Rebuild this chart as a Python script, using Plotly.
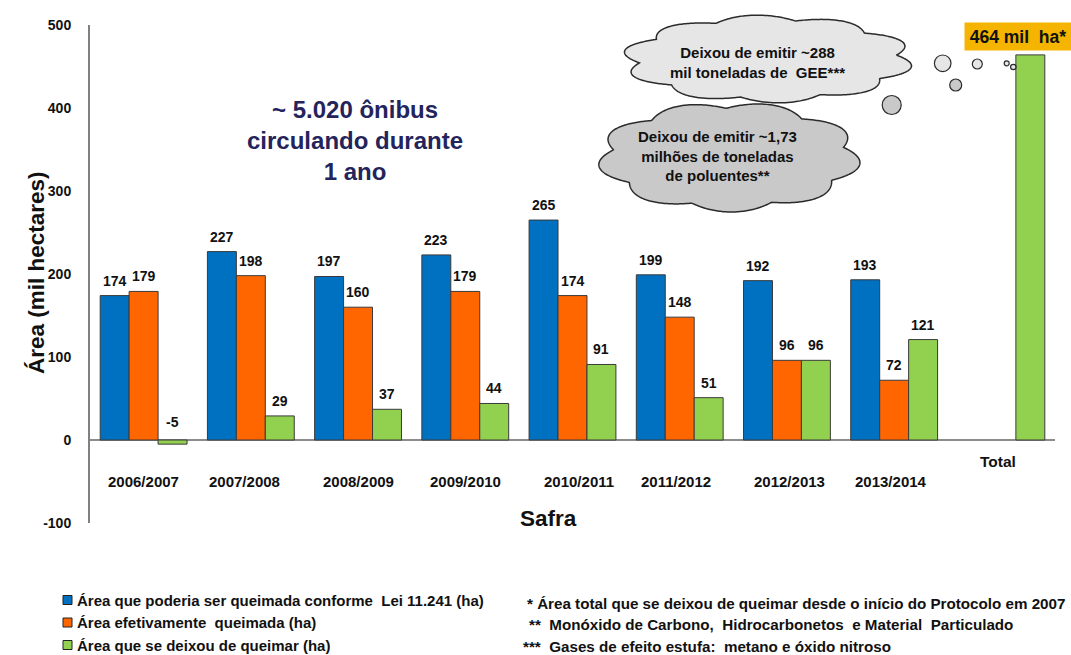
import numpy as np
import plotly.graph_objects as go

# ---- data -------------------------------------------------------------
safras = ["2006/2007", "2007/2008", "2008/2009", "2009/2010", "2010/2011",
          "2011/2012", "2012/2013", "2013/2014", "Total"]
area_permitida = [174, 227, 197, 223, 265, 199, 192, 193, None]
area_queimada = [179, 198, 160, 179, 174, 148, 96, 72, None]
area_evitada = [-5, 29, 37, 44, 91, 51, 96, 121, 464]
y_ticks = [-100, 0, 100, 200, 300, 400, 500]

series_names = [
    "Área que poderia ser queimada conforme  Lei 11.241 (ha)",
    "Área efetivamente  queimada (ha)",
    "Área que se deixou de queimar (ha)",
]
series_colors = ["#0070C0", "#FF6600", "#92D050"]

footnotes = [
    "* Área total que se deixou de queimar desde o início do Protocolo em 2007",
    "**  Monóxido de Carbono,  Hidrocarbonetos  e Material  Particulado",
    "***  Gases de efeito estufa:  metano e óxido nitroso",
]

# ---- layout geometry (pixels) -----------------------------------------
FIG_W, FIG_H = 1071, 655
M_L, M_R, M_T, M_B = 90, 16, 25, 132
PW = FIG_W - M_L - M_R
PH = FIG_H - M_T - M_B
FONT = "Liberation Sans, Arial, sans-serif"
BARGAP = 0.19


def fx(px):
    return (px - M_L) / PW


def fy(py):
    return (FIG_H - M_B - py) / PH


def bold(size, color="#111111"):
    return dict(family=FONT, size=size, color=color, weight="bold")


def note(px, py, text, size, xanchor="center", color="#111111", **kw):
    return dict(x=fx(px), y=fy(py), xref="paper", yref="paper", text=text,
                showarrow=False, xanchor=xanchor, yanchor="middle",
                font=bold(size, color), **kw)


fig = go.Figure()
all_series = [area_permitida, area_queimada, area_evitada]
for name, vals, col in zip(series_names, all_series, series_colors):
    fig.add_trace(go.Bar(
        x=safras, y=vals, name=name, showlegend=False,
        marker=dict(color=col, line=dict(color="#3a3a3a", width=1)),
    ))

# value labels over each bar
bar_px = PW / len(safras) * (1 - BARGAP) / 3
annotations = []
for k, vals in enumerate(all_series):
    for cat, v in zip(safras, vals):
        if v is None or cat == "Total":
            continue
        annotations.append(dict(
            x=cat, y=max(v, 0), xref="x", yref="y", text=str(v),
            showarrow=False, xshift=(k - 1) * bar_px,
            xanchor="center", yanchor="bottom", yshift=5 if v >= 0 else 8,
            font=bold(14),
        ))

# category labels under the axis
label_shift = [0, -6, 0, 0, 6, -4, 3, -3, -3]
for cat, sh in zip(safras, label_shift):
    annotations.append(dict(
        x=cat, y=fy(461 if cat == "Total" else 481), xref="x", yref="paper",
        text=cat, showarrow=False, xshift=sh,
        xanchor="center", yanchor="middle",
        font=bold(15.5 if cat == "Total" else 15),
    ))

# total label box
annotations.append(note(1018, 36, f"{area_evitada[-1]} mil  ha*", 17.5,
                        bgcolor="#F5B400", width=104, height=25))

# axis titles
annotations.append(note(36, 273, "Área (mil hectares)", 22.5, textangle=-90))
annotations.append(note(548, 518, "Safra", 22.5))

# bus-equivalence note
annotations.append(note(355, 140, "~ 5.020 ônibus<br>circulando durante<br>1 ano",
                        24, color="#24245C"))


# ---- thought clouds ----------------------------------------------------
def cloud_path(cx, cy, hw, hh, n, k=0.13, phase=0.0):
    t = np.linspace(0, 2 * np.pi, 600)
    s = 1 + k * np.abs(np.sin(n * (t + phase) / 2))
    a, b = hw / (1 + k), hh / (1 + k)
    xs = cx + a * s * np.cos(t)
    ys = cy + b * s * np.sin(t)
    pts = [f"{fx(x):.5f},{fy(y):.5f}" for x, y in zip(xs, ys)]
    return "M" + " L".join(pts) + " Z"


shapes = []
shapes.append(dict(type="path", xref="paper", yref="paper",
                   path=cloud_path(768, 59, 146, 44, 10, phase=0.1),
                   fillcolor="#E6E6E6", line=dict(color="#2b2b2b", width=1.5)))
shapes.append(dict(type="path", xref="paper", yref="paper",
                   path=cloud_path(729, 157, 132, 55, 9, phase=0.2),
                   fillcolor="#C9C9C9", line=dict(color="#2b2b2b", width=1.5)))

bubbles = [(891.7, 105, 9.5, "#C9C9C9"), (942.7, 63.3, 8.3, "#E6E6E6"),
           (955.7, 85, 6, "#C9C9C9"), (977.3, 64, 5, "#E6E6E6"),
           (1006.7, 63.3, 2.5, "#E6E6E6"), (1013.3, 67, 2.7, "#E6E6E6")]
for bx, by, r, c in bubbles:
    shapes.append(dict(type="circle", xref="paper", yref="paper",
                       x0=fx(bx - r), x1=fx(bx + r), y0=fy(by + r), y1=fy(by - r),
                       fillcolor=c, line=dict(color="#2b2b2b", width=1.2)))

annotations.append(note(757, 62, "Deixou de emitir ~288<br>mil toneladas de  GEE***", 15))
annotations.append(note(717, 156,
                        "Deixou de emitir ~1,73<br>milhões de toneladas<br>de poluentes**", 15))

# ---- legend (drawn) ----------------------------------------------------
for i, (name, col) in enumerate(zip(series_names, series_colors)):
    yc = 600 + i * 22.5
    shapes.append(dict(type="rect", xref="paper", yref="paper",
                       x0=fx(63), x1=fx(72), y0=fy(yc + 4.5), y1=fy(yc - 4.5),
                       fillcolor=col, line=dict(color="#222222", width=1)))
    annotations.append(note(75, yc, name, 15, xanchor="left"))

# ---- footnotes ---------------------------------------------------------
for txt, (nx, ny) in zip(footnotes, [(525, 603), (527, 625), (521, 646)]):
    annotations.append(note(nx, ny, txt, 15.2, xanchor="left"))

fig.update_layout(
    width=FIG_W, height=FIG_H,
    margin=dict(l=M_L, r=M_R, t=M_T, b=M_B),
    paper_bgcolor="white", plot_bgcolor="white",
    barmode="group", bargap=BARGAP, bargroupgap=0,
    shapes=shapes, annotations=annotations,
    xaxis=dict(type="category", showticklabels=False, showgrid=False,
               showline=False, ticks="", fixedrange=True),
    yaxis=dict(range=[-100, 500], tickmode="array", tickvals=y_ticks,
               ticktext=[str(v) for v in y_ticks], showgrid=False,
               showline=True, linecolor="#808080", linewidth=2,
               zeroline=True, zerolinecolor="#8c8c8c", zerolinewidth=1.5,
               ticks="", ticklabelstandoff=14, tickfont=bold(14)),
    showlegend=False,
)

fig.write_html("out.html")
